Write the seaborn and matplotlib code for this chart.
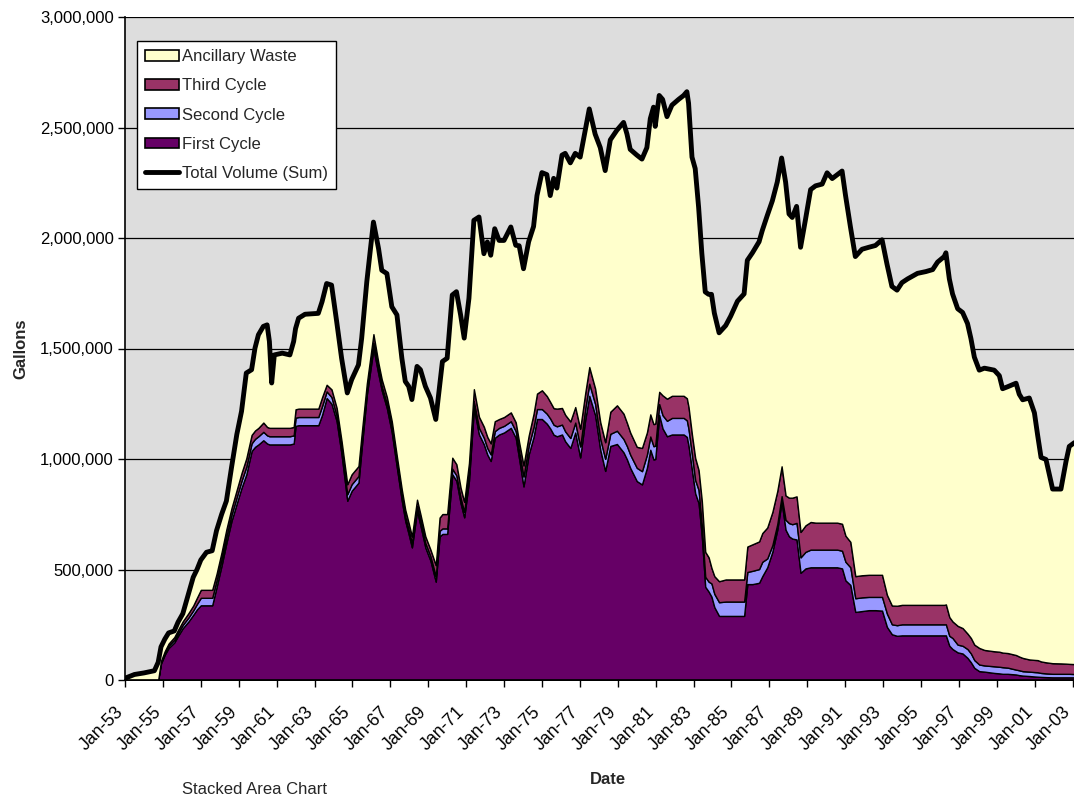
import matplotlib
matplotlib.use("Agg")
import matplotlib.pyplot as plt
import numpy as np
import pandas as pd
import seaborn as sns
from matplotlib.patches import Patch
from matplotlib.lines import Line2D
from matplotlib.ticker import FuncFormatter
from matplotlib.transforms import ScaledTranslation

# Dates as fractional years; volumes in thousands of gallons
DATES = [
    1953.00, 1953.50, 1954.00, 1954.55, 1954.75, 1954.90, 1955.10, 1955.30, 1955.60, 1955.80,
    1956.05, 1956.35, 1956.60, 1956.80, 1957.00, 1957.30, 1957.60, 1957.83, 1958.10, 1958.35,
    1958.62, 1958.90, 1959.15, 1959.40, 1959.68, 1959.86, 1960.04, 1960.30, 1960.50, 1960.62,
    1960.74, 1960.88, 1961.30, 1961.70, 1961.90, 1962.00, 1962.16, 1962.50, 1963.20, 1963.40,
    1963.64, 1963.90, 1964.17, 1964.43, 1964.73, 1964.96, 1965.32, 1965.49, 1965.76, 1966.11,
    1966.38, 1966.55, 1966.82, 1967.08, 1967.35, 1967.61, 1967.79, 1967.97, 1968.14, 1968.41,
    1968.59, 1968.85, 1969.12, 1969.40, 1969.60, 1969.75, 1970.00, 1970.27, 1970.49, 1970.71,
    1970.90, 1971.15, 1971.41, 1971.68, 1971.94, 1972.12, 1972.30, 1972.51, 1972.74, 1973.00,
    1973.36, 1973.62, 1973.80, 1974.03, 1974.30, 1974.56, 1974.74, 1975.00, 1975.26, 1975.44,
    1975.62, 1975.79, 1976.06, 1976.23, 1976.50, 1976.76, 1977.02, 1977.29, 1977.50, 1977.81,
    1978.08, 1978.34, 1978.61, 1978.96, 1979.31, 1979.49, 1979.66, 1980.01, 1980.28, 1980.54,
    1980.72, 1980.89, 1980.98, 1981.19, 1981.37, 1981.60, 1981.86, 1982.21, 1982.48, 1982.65,
    1982.74, 1982.92, 1983.09, 1983.27, 1983.44, 1983.62, 1983.80, 1983.95, 1984.10, 1984.35,
    1984.70, 1984.96, 1985.32, 1985.67, 1985.84, 1986.11, 1986.46, 1986.63, 1986.89, 1987.16,
    1987.42, 1987.65, 1987.86, 1988.04, 1988.21, 1988.44, 1988.65, 1988.91, 1989.18, 1989.44,
    1989.79, 1990.05, 1990.32, 1990.58, 1990.84, 1991.02, 1991.28, 1991.54, 1991.89, 1992.25,
    1992.60, 1992.95, 1993.21, 1993.47, 1993.74, 1994.00, 1994.30, 1994.82, 1995.26, 1995.62,
    1995.88, 1996.23, 1996.32, 1996.50, 1996.67, 1996.94, 1997.20, 1997.46, 1997.64, 1997.82,
    1998.08, 1998.35, 1998.87, 1999.14, 1999.31, 1999.58, 2000.02, 2000.19, 2000.37, 2000.72,
    2000.99, 2001.16, 2001.34, 2001.60, 2001.95, 2002.39, 2002.66, 2002.83, 2003.10,
]

FIRST_CYCLE = [
    0, 0, 0, 0, 0, 75, 115, 145, 170, 200,
    235, 265, 295, 320, 338, 338, 338, 420, 520, 620,
    720, 800, 870, 930, 1036, 1055, 1066, 1085, 1070, 1066,
    1066, 1066, 1066, 1066, 1070, 1150, 1153, 1153, 1153, 1200,
    1276, 1250, 1171, 1020, 811, 856, 893, 1051, 1291, 1500,
    1381, 1310, 1230, 1120, 960, 810, 720, 660, 600, 766,
    700, 600, 540, 445, 650, 661, 661, 931, 901, 800,
    736, 901, 1231, 1111, 1066, 1020, 991, 1096, 1111, 1120,
    1141, 1096, 1000, 876, 1020, 1100, 1181, 1181, 1160, 1138,
    1110, 1103, 1111, 1080, 1050, 1120, 1007, 1181, 1286, 1199,
    1042, 946, 1059, 1068, 1030, 998, 960, 900, 885, 960,
    1042, 998, 1000, 1199, 1138, 1103, 1111, 1111, 1111, 1100,
    1060, 950, 845, 800, 650, 422, 400, 377, 330, 290,
    290, 290, 290, 290, 434, 434, 440, 470, 510, 580,
    680, 807, 680, 650, 640, 636, 485, 505, 510, 510,
    510, 510, 510, 510, 505, 451, 430, 308, 312, 316,
    316, 314, 240, 207, 200, 202, 202, 202, 202, 202,
    202, 202, 202, 155, 140, 125, 120, 100, 80, 55,
    40, 38, 32, 30, 28, 28, 25, 22, 20, 18,
    16, 15, 14, 13, 12, 12, 12, 12, 12,
]

SECOND_CYCLE = [
    0, 0, 0, 0, 0, 6, 8, 10, 12, 13,
    15, 18, 20, 25, 34, 34, 34, 30, 30, 30,
    28, 30, 32, 35, 35, 36, 37, 38, 37, 37,
    37, 37, 37, 37, 37, 37, 37, 37, 37, 40,
    30, 30, 25, 25, 30, 30, 30, 25, 20, 25,
    20, 20, 20, 20, 20, 20, 20, 20, 20, 20,
    20, 20, 20, 25, 25, 25, 25, 25, 25, 25,
    25, 30, 30, 30, 30, 30, 30, 30, 30, 30,
    30, 30, 35, 45, 40, 45, 45, 45, 45, 45,
    45, 45, 45, 45, 45, 45, 50, 50, 55, 50,
    50, 55, 55, 60, 60, 60, 60, 60, 60, 60,
    60, 60, 60, 50, 60, 70, 75, 75, 75, 75,
    75, 70, 60, 60, 50, 45, 45, 60, 60, 62,
    65, 65, 65, 65, 55, 60, 62, 65, 40, 30,
    25, 25, 45, 60, 65, 75, 70, 75, 80, 80,
    80, 80, 80, 80, 80, 84, 80, 62, 62, 60,
    60, 62, 60, 45, 48, 50, 50, 50, 50, 50,
    50, 50, 50, 45, 50, 35, 35, 40, 40, 35,
    30, 28, 30, 30, 30, 28, 22, 22, 20, 20,
    20, 20, 18, 17, 16, 16, 16, 16, 15,
]

THIRD_CYCLE = [
    0, 0, 0, 0, 0, 6, 8, 10, 12, 14,
    16, 20, 22, 28, 36, 36, 36, 30, 30, 32,
    30, 32, 35, 38, 38, 38, 38, 42, 38, 38,
    38, 38, 38, 38, 38, 38, 38, 38, 38, 40,
    30, 35, 35, 35, 45, 45, 45, 40, 30, 40,
    30, 30, 30, 30, 30, 30, 30, 30, 30, 30,
    30, 30, 30, 50, 60, 65, 65, 50, 50, 45,
    45, 50, 55, 50, 50, 50, 50, 45, 40, 40,
    40, 40, 40, 50, 45, 60, 70, 85, 80, 75,
    75, 80, 75, 75, 75, 70, 80, 70, 75, 70,
    75, 75, 100, 115, 115, 105, 100, 95, 105, 100,
    100, 100, 100, 55, 90, 100, 100, 100, 100, 100,
    100, 90, 100, 90, 110, 113, 110, 70, 80, 95,
    100, 100, 100, 100, 115, 120, 125, 130, 140, 150,
    150, 135, 110, 115, 120, 120, 115, 120, 125, 122,
    122, 122, 122, 122, 122, 118, 115, 100, 100, 100,
    100, 100, 85, 85, 88, 88, 88, 88, 88, 88,
    88, 88, 90, 85, 75, 85, 80, 70, 70, 70,
    75, 70, 68, 68, 66, 66, 66, 62, 60, 55,
    55, 55, 52, 50, 48, 47, 46, 45, 45,
]

TOTAL_VOLUME = [
    8, 25, 32, 42, 80, 150, 185, 213, 222, 262,
    300, 390, 465, 500, 543, 578, 585, 676, 750, 810,
    961, 1111, 1216, 1389, 1404, 1502, 1562, 1600, 1607, 1532,
    1344, 1471, 1479, 1471, 1532, 1590, 1637, 1655, 1659, 1712,
    1794, 1787, 1622, 1456, 1299, 1359, 1426, 1547, 1802, 2072,
    1952, 1854, 1839, 1689, 1652, 1456, 1351, 1329, 1269, 1419,
    1404, 1329, 1276, 1179, 1330, 1441, 1456, 1742, 1757, 1652,
    1547, 1727, 2080, 2095, 1929, 1982, 1922, 2042, 1989, 1989,
    2050, 1967, 1965, 1861, 1983, 2052, 2192, 2296, 2287, 2192,
    2270, 2226, 2375, 2383, 2340, 2383, 2366, 2488, 2584, 2470,
    2409, 2305, 2444, 2488, 2523, 2470, 2401, 2375, 2357, 2409,
    2540, 2592, 2505, 2645, 2627, 2549, 2601, 2627, 2645, 2662,
    2610, 2366, 2314, 2139, 1930, 1756, 1745, 1745, 1660, 1571,
    1604, 1646, 1714, 1747, 1899, 1933, 1983, 2034, 2101, 2168,
    2253, 2362, 2253, 2109, 2093, 2143, 1958, 2084, 2219, 2236,
    2244, 2295, 2269, 2286, 2303, 2194, 2051, 1916, 1949, 1958,
    1966, 1992, 1882, 1781, 1764, 1798, 1815, 1840, 1848, 1857,
    1891, 1916, 1933, 1815, 1747, 1680, 1663, 1613, 1545, 1461,
    1402, 1411, 1402, 1377, 1318, 1327, 1343, 1293, 1268, 1276,
    1209, 1108, 1007, 998, 864, 864, 990, 1057, 1074,
]

TICK_YEARS = list(range(1953, 2004, 2))
TICK_LABELS = [f"Jan-{y % 100:02d}" for y in TICK_YEARS]

SERIES_NAMES = ["First Cycle", "Second Cycle", "Third Cycle", "Ancillary Waste"]
SERIES_COLORS = ["#660066", "#9999FF", "#993366", "#FFFFCC"]

df = pd.DataFrame({
    "date": DATES,
    "First Cycle": FIRST_CYCLE,
    "Second Cycle": SECOND_CYCLE,
    "Third Cycle": THIRD_CYCLE,
    "Total": TOTAL_VOLUME,
})
df[["First Cycle", "Second Cycle", "Third Cycle", "Total"]] *= 1000
# Ancillary waste is whatever the total holds beyond the three cycles
df["Ancillary Waste"] = df["Total"] - df["First Cycle"] - df["Second Cycle"] - df["Third Cycle"]

sns.set_theme(style="white")
plt.rcParams["font.family"] = ["Liberation Sans", "DejaVu Sans"]

fig = plt.figure(figsize=(10.74, 7.99), dpi=100)
ax = fig.add_axes([125 / 1074, 119 / 799, 1 - 125 / 1074, 663 / 799])
ax.set_facecolor("#DDDDDD")

ax.stackplot(
    df["date"],
    [df[n] for n in SERIES_NAMES],
    colors=SERIES_COLORS,
    edgecolor="black",
    linewidth=1.0,
    zorder=2,
)
sns.lineplot(data=df, x="date", y="Total", color="black", linewidth=3.5,
             ax=ax, zorder=3, legend=False)

ax.set_xlim(1953, 1953 + 949 / 18.95)
ax.set_ylim(0, 3_000_000)
ax.set_yticks(np.arange(0, 3_000_001, 500_000))
ax.yaxis.set_major_formatter(FuncFormatter(lambda v, p: f"{v:,.0f}"))
ax.set_xticks(TICK_YEARS)
ax.set_xticklabels(TICK_LABELS, rotation=45, ha="right", rotation_mode="anchor")

ax.grid(axis="y", color="black", linewidth=0.9)
ax.grid(axis="x", visible=False)
ax.set_axisbelow(True)

for side in ["top", "right"]:
    ax.spines[side].set_visible(False)
for side in ["left", "bottom"]:
    ax.spines[side].set_color("black")
    ax.spines[side].set_linewidth(1.2)

ax.tick_params(axis="both", which="major", direction="out", length=5, width=1,
               color="black", labelsize=12, labelcolor="black", pad=3,
               bottom=True, left=True)
ax.tick_params(axis="x", labelsize=12.8)

# Nudge the slanted date labels down and to the left of their ticks
shift = ScaledTranslation(-0.10, -0.12, fig.dpi_scale_trans)
for lbl in ax.get_xticklabels():
    lbl.set_transform(lbl.get_transform() + shift)

ax.set_xlabel("Date", fontsize=12, fontweight="bold")
ax.set_ylabel("Gallons", fontsize=12, fontweight="bold")
ax.xaxis.set_label_coords((608 - 125) / 949, -92 / 663)
ax.yaxis.set_label_coords(-97 / 949, 0.5)

handles = [Patch(facecolor=c, edgecolor="black", linewidth=1.2)
           for c in reversed(SERIES_COLORS)]
handles.append(Line2D([0], [0], color="black", linewidth=3.5))
labels = list(reversed(SERIES_NAMES)) + ["Total Volume (Sum)"]
leg = ax.legend(handles, labels, loc="upper left",
                bbox_to_anchor=(137 / 1074, 1 - 41 / 799),
                bbox_transform=fig.transFigure, borderaxespad=0,
                frameon=True, fancybox=False, shadow=False, fontsize=12,
                handlelength=2.0, handleheight=0.6, handletextpad=0.2,
                labelspacing=0.85, borderpad=0.5)
leg.get_frame().set_edgecolor("black")
leg.get_frame().set_linewidth(1.0)
leg.get_frame().set_facecolor("white")
leg.get_frame().set_alpha(1.0)

fig.text(182 / 1074, 1 - 790 / 799, "Stacked Area Chart", fontsize=12,
         ha="left", va="center")

fig.savefig("out.png", dpi=100, facecolor="white")
